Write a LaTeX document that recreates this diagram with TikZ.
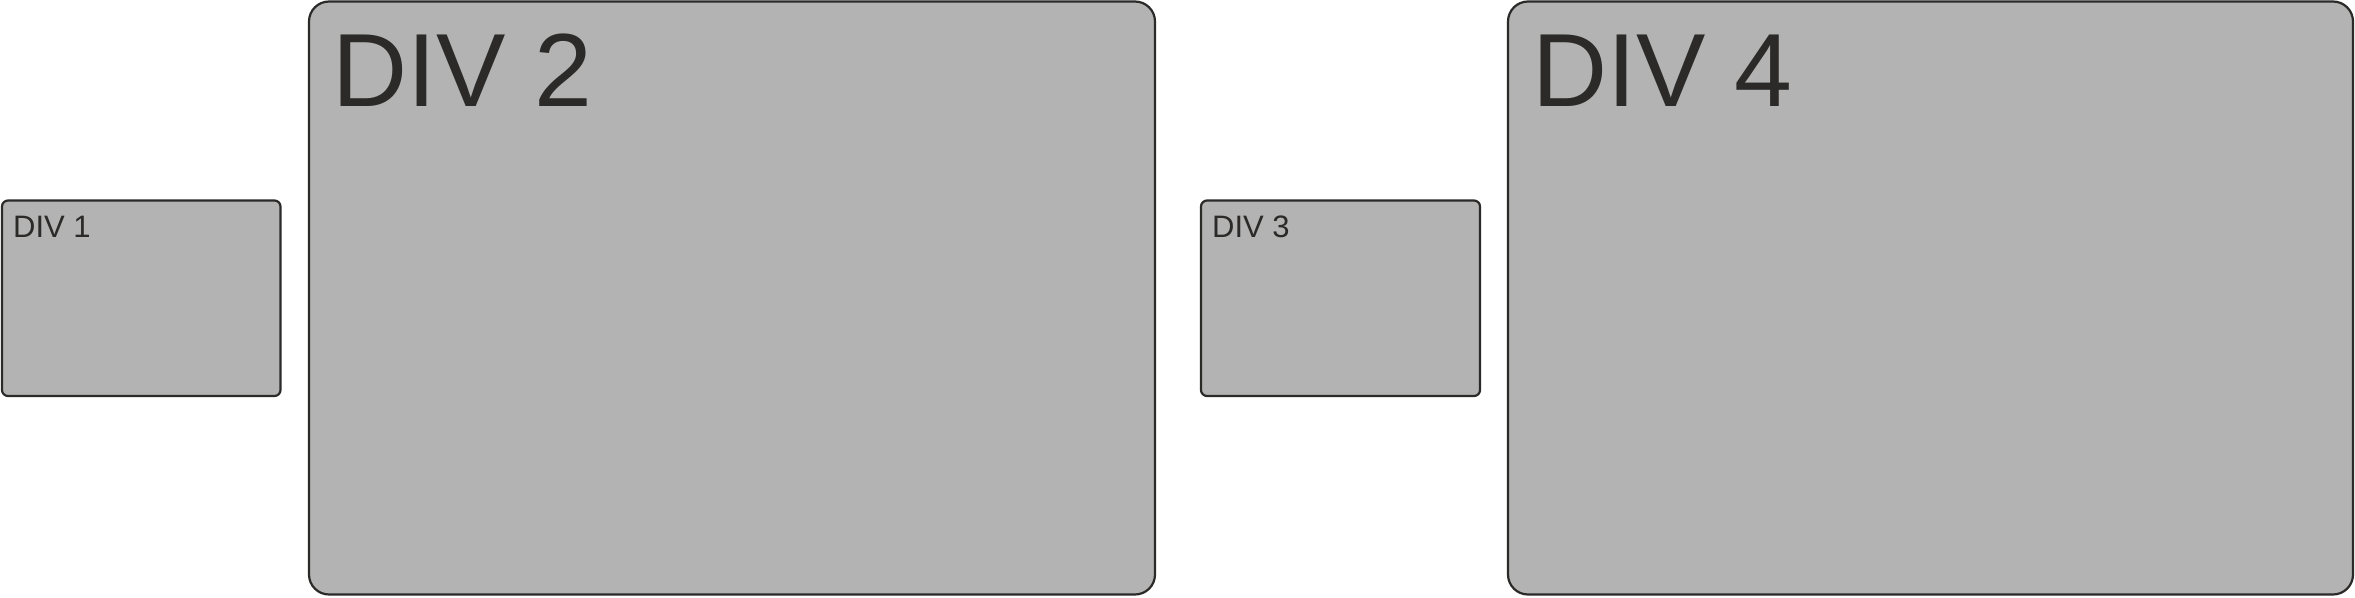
\documentclass[tikz,border=0pt]{standalone}
\usepackage{fontspec}
\setmainfont{Liberation Sans}
\definecolor{boxfill}{HTML}{B2B3B2}
\definecolor{ink}{HTML}{2B2A29}
\tikzset{
  divbox/.style={draw=ink, fill=boxfill, line width=2.2pt},
  bigbox/.style={divbox, rounded corners=20pt},
  smallbox/.style={divbox, rounded corners=6pt},
  biglabel/.style={anchor=base west, inner sep=0pt, text=ink, font=\fontsize{104}{104}\selectfont},
  smalllabel/.style={anchor=base west, inner sep=0pt, text=ink, font=\fontsize{31}{31}\selectfont},
}
\begin{document}
\begin{tikzpicture}[x=1pt,y=-1pt]
\useasboundingbox (0,0) rectangle (2355,597);
\draw[smallbox] (2,200.5) rectangle (280.5,396);
\draw[bigbox] (309,1.5) rectangle (1155,594.5);
\draw[smallbox] (1201,200.5) rectangle (1480,396);
\draw[bigbox] (1508,1.5) rectangle (2353,594.5);
\node[smalllabel] (l1) at (13,237) {DIV 1};
\node[biglabel] (l2) at (332,106) {DIV 2};
\node[smalllabel] (l3) at (1212,237) {DIV 3};
\node[biglabel] (l4) at (1532,106) {DIV 4};
\end{tikzpicture}
\end{document}
